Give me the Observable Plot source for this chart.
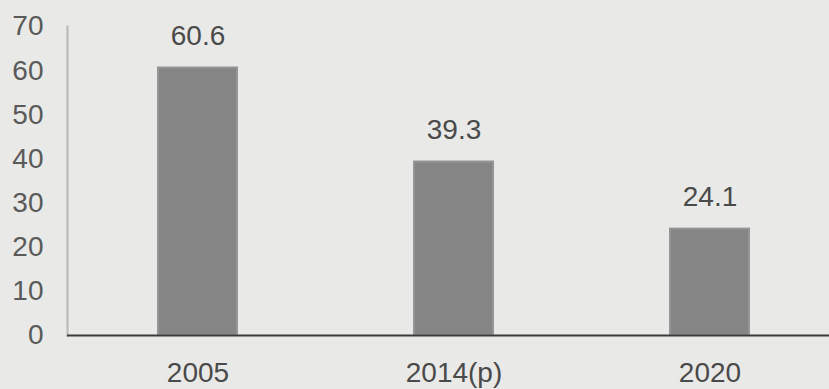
<!DOCTYPE html>
<html>
<head>
<meta charset="utf-8">
<script src="https://cdn.jsdelivr.net/npm/d3@7"></script>
<script src="https://cdn.jsdelivr.net/npm/@observablehq/plot@0.6"></script>
<style>
  html, body { margin: 0; padding: 0; background: #e9e9e7; }
  #chart svg { display: block; }
</style>
</head>
<body>
<div id="chart"></div>
<script>
const categories = ["2005", "2014(p)", "2020"];
const values = [60.6, 39.3, 24.1];
const valueLabels = ["60.6", "39.3", "24.1"];
const yTicks = [0, 10, 20, 30, 40, 50, 60, 70];

const data = categories.map((c, i) => ({cat: c, value: values[i], label: valueLabels[i]}));

const chart = Plot.plot({
  width: 829,
  height: 389,
  marginLeft: 67,
  marginRight: 0,
  marginTop: 26,
  marginBottom: 54,
  style: {background: "#e9e9e7", fontFamily: "'Liberation Sans', Arial, sans-serif", fontSize: "28px", color: "#4a4a4a"},
  x: {domain: categories, range: [67, 840], paddingInner: 0.69, paddingOuter: 0.35, label: null},
  y: {domain: [0, 70], label: null},
  marks: [
    Plot.frame({anchor: "left", stroke: "#b8b8b8", strokeWidth: 2}),
    Plot.axisY({ticks: yTicks, tickSize: 0, tickPadding: 24, fontSize: 28, fill: "#5a5a5a", label: null}),
    Plot.axisX({tickSize: 0, tickPadding: 27, fontSize: 28, fill: "#4a4a4a", label: null}),
    Plot.barY(data, {x: "cat", y: "value", fill: "#858585", stroke: "#959595", strokeWidth: 2}),
    Plot.ruleY([0], {stroke: "#3a3a3a", strokeWidth: 2}),
    Plot.text(data, {x: "cat", y: "value", text: "label", dy: -32, fontSize: 28, fill: "#4a4a4a"})
  ]
});
document.getElementById("chart").appendChild(chart);
</script>
</body>
</html>
